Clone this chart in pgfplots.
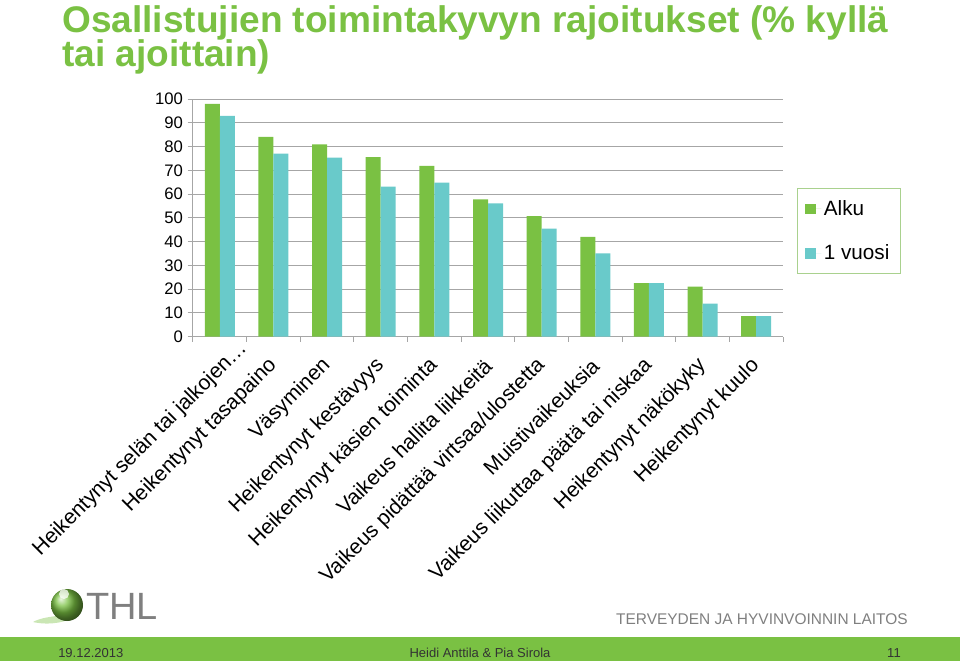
\documentclass[border=0pt]{standalone}
\usepackage{fontspec}
\setmainfont{Liberation Sans}
\usepackage{pgfplots}
\pgfplotsset{compat=1.18}
\definecolor{thlgreen}{HTML}{7AC143}
\definecolor{barcyan}{HTML}{69CACA}
\definecolor{gridgray}{HTML}{A6A6A6}
\definecolor{legendline}{HTML}{A9D18E}
\definecolor{logogray}{HTML}{7F7F7F}

\begin{document}
\begin{tikzpicture}
\path[use as bounding box] (0pt,0pt) rectangle (720pt,-495.75pt);
\begin{scope}[x=0.75pt,y=-0.75pt]
% title
\node[anchor=base west,inner sep=0pt,text=thlgreen,font=\fontsize{27.8}{30}\bfseries\selectfont] at (62,32) {Osallistujien toimintakyvyn rajoitukset (\% kyllä};
\node[anchor=base west,inner sep=0pt,text=thlgreen,font=\fontsize{27.8}{30}\bfseries\selectfont] at (62,66) {tai ajoittain)};
% footer
\fill[thlgreen] (0,637) rectangle (960,661);
\node[anchor=base west,inner sep=0pt,text=black!80,font=\fontsize{9.75}{12}\selectfont] at (58,657) {19.12.2013};
\node[anchor=base,inner sep=0pt,text=black!80,font=\fontsize{9.75}{12}\selectfont] at (480,657) {Heidi Anttila \& Pia Sirola};
\node[anchor=base east,inner sep=0pt,text=black!80,font=\fontsize{9.75}{12}\selectfont] at (901,657) {11};
% logo
\fill[thlgreen!40] (33,622) .. controls (45,615) and (70,616) .. (80,612) .. controls (72,622) and (50,626) .. (33,622) -- cycle;
\shade[ball color=thlgreen] (67,605) circle (16);
\fill[white,opacity=0.75] (64,594) circle (5);
\node[anchor=base west,inner sep=0pt,text=logogray,font=\fontsize{28.5}{30}\selectfont] at (86,619) {THL};
\node[anchor=base east,inner sep=0pt,text=logogray,font=\fontsize{11.6}{14}\selectfont] at (908,624) {TERVEYDEN JA HYVINVOINNIN LAITOS};
\end{scope}

\begin{axis}[
  at={(144.75pt,-252.4pt)}, anchor=south west,
  scale only axis, width=442.5pt, height=178pt,
  ybar=0pt, bar width=11.25pt,
  xmin=-0.5, xmax=10.5, ymin=0, ymax=100,
  ytick={0,10,...,100},
  xtick={1,...,10},
  xticklabels={Heikentynyt tasapaino,Väsyminen,Heikentynyt kestävyys,Heikentynyt käsien toiminta,Vaikeus hallita liikkeitä,Vaikeus pidättää virtsaa/ulostetta,Muistivaikeuksia,Vaikeus liikuttaa päätä tai niskaa,Heikentynyt näkökyky,Heikentynyt kuulo},
  extra x ticks={0},
  extra x tick labels={Heikentynyt selän tai jalkojen…},
  extra x tick style={major tick length=0pt,
    xticklabel style={xshift=18.8pt,yshift=-6.5pt}},
  minor xtick={-0.5,0.5,...,10.5},
  axis x line*=bottom, axis y line*=left,
  axis line style={draw=gridgray,line width=0.75pt},
  tick align=outside,
  major tick length=4pt, minor tick length=4pt,
  major x tick style={draw=none},
  minor x tick style={draw=gridgray,line width=0.75pt},
  ytick style={draw=gridgray,line width=0.75pt},
  ymajorgrids, grid style={draw=gridgray,line width=0.75pt},
  /pgf/number format/assume math mode=true,
  yticklabel style={font=\fontsize{12.5}{14}\selectfont},
  xticklabel style={xshift=2.5pt,yshift=-13pt,rotate=45,anchor=east,font=\fontsize{15.8}{18}\selectfont},
  legend style={at={(1.0237,0.625)},anchor=north west,draw=legendline,
    font=\fontsize{15.5}{17}\selectfont,row sep=16.5pt,inner xsep=6pt,inner ysep=7pt},
  legend cell align=left,
  legend image code/.code={\path (0pt,0pt) -- (12pt,0pt);\fill[#1] (0pt,-4pt) rectangle (8pt,4pt);},
]
\addplot[fill=thlgreen,draw=none] coordinates {
(0,98) (1,84.1) (2,81) (3,75.6) (4,71.9) (5,57.8) (6,50.7) (7,42) (8,22.5) (9,21) (10,8.6)};
\addlegendentry{Alku}
\addplot[fill=barcyan,draw=none] coordinates {
(0,93) (1,77.1) (2,75.4) (3,63.2) (4,64.9) (5,56.1) (6,45.5) (7,35) (8,22.5) (9,13.9) (10,8.6)};
\addlegendentry{1 vuosi}
\end{axis}
\end{tikzpicture}
\end{document}
